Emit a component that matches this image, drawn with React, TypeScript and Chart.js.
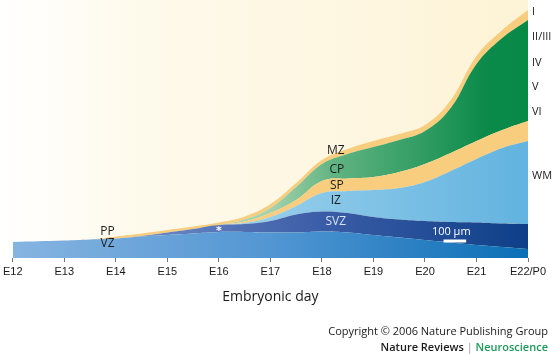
import React, { useEffect, useRef } from "react";
import { Chart, registerables } from "chart.js";

Chart.register(...registerables);

// Embryonic days at which layer thicknesses were read (x axis)
const days = [12, 13, 13.5, 14, 14.5, 15, 15.5, 16, 16.5, 17, 17.5, 18, 18.5, 19, 19.5, 20, 20.5, 21, 21.5, 22];
const tickDays = [12, 13, 14, 15, 16, 17, 18, 19, 20, 21, 22];
const tickLabels = ["E12", "E13", "E14", "E15", "E16", "E17", "E18", "E19", "E20", "E21", "E22/P0"];

// Layer thicknesses (drawing units, 100 µm ≈ 23 units), bottom to top
const vz = [16, 17.5, 18.5, 19.5, 21.5, 23, 24.5, 26, 26, 25.5, 25.5, 26.5, 25.5, 23, 20.5, 18, 15.5, 13, 11, 9];
const svz = [0, 0, 0, 0, 0.5, 2.5, 4.5, 7, 8, 11.5, 18, 20, 19.5, 18, 18, 19, 20.5, 22.5, 23.5, 25];
const iz = [0, 0, 0, 0, 0, 0, 0, 0, 1, 4, 8.5, 18.5, 22, 27, 31.5, 39, 51, 63.5, 75.5, 83];
const sp = [0, 0, 0, 0, 0, 0, 0, 0, 1.5, 4, 6, 12, 12.5, 13, 16, 18, 18, 18, 18, 20];
const cp = [0, 0, 0, 0, 0, 0, 0, 0, 2, 5, 13, 17, 24.5, 30, 32, 33, 45, 77, 92, 101];
const mz = [0, 0, 0, 2, 2.5, 2.5, 2.5, 2.5, 3, 4, 4, 4, 5, 6, 6, 6, 8, 8, 8, 10];

const yMax = 258;

// In-chart labels: [text, day, height, color]
const zoneLabels: [string, number, number, string][] = [
  ["MZ", 18.27, 107, "#1c1c1c"],
  ["CP", 18.29, 88, "#1c1c1c"],
  ["SP", 18.29, 72, "#1c1c1c"],
  ["IZ", 18.27, 57, "#1c1c1c"],
  ["SVZ", 18.27, 36, "#d6e2f4"],
  ["PP", 13.84, 26, "#1c1c1c"],
  ["VZ", 13.84, 14, "#1c1c1c"],
  ["100 µm", 20.51, 26, "#ffffff"],
];
// Right-side layer labels: [text, height]
const sideLabels: [string, number][] = [
  ["I", 246],
  ["II/III", 221],
  ["IV", 195],
  ["V", 171],
  ["VI", 146],
  ["WM", 82],
];

function hGrad(chart: any, stops: [number, string][]) {
  const area = chart.chartArea;
  const c = chart.ctx;
  const g = c.createLinearGradient(area.left, 0, area.right, 0);
  stops.forEach(([p, col]) => g.addColorStop(p, col));
  return g;
}

function fillOf(stops: [number, string][], fallback: string) {
  return (ctx: any) => {
    const chart = ctx.chart;
    if (!chart.chartArea) return fallback;
    return hGrad(chart, stops);
  };
}

const bgPlugin = {
  id: "cream",
  beforeDraw(chart: any) {
    const { ctx, chartArea } = chart;
    const g = ctx.createLinearGradient(0, 0, chartArea.right, 0);
    g.addColorStop(0, "#ffffff");
    g.addColorStop(0.25, "#fefaec");
    g.addColorStop(1, "#fdf3d6");
    ctx.save();
    ctx.fillStyle = g;
    ctx.fillRect(0, 0, chartArea.right, chartArea.bottom);
    ctx.restore();
  },
};

const labelPlugin = {
  id: "zoneLabels",
  afterDraw(chart: any) {
    const { ctx, chartArea } = chart;
    const xs = chart.scales.x;
    const ys = chart.scales.y;
    ctx.save();
    ctx.textAlign = "center";
    ctx.textBaseline = "middle";
    zoneLabels.forEach(([t, d, h, col]) => {
      ctx.font = t === "100 µm" ? "11px 'Open Sans'" : "12px 'Open Sans'";
      ctx.fillStyle = col;
      ctx.fillText(t, xs.getPixelForValue(d), ys.getPixelForValue(h));
    });
    // scale bar
    ctx.strokeStyle = "#ffffff";
    ctx.lineWidth = 3;
    ctx.beginPath();
    const by = ys.getPixelForValue(17);
    ctx.moveTo(xs.getPixelForValue(20.36), by);
    ctx.lineTo(xs.getPixelForValue(20.8), by);
    ctx.stroke();
    // asterisk
    ctx.fillStyle = "#ffffff";
    ctx.font = "bold 11px 'DejaVu Sans'";
    ctx.fillText("*", xs.getPixelForValue(16), ys.getPixelForValue(27));
    // side labels
    ctx.textAlign = "left";
    ctx.fillStyle = "#1c1c1c";
    ctx.font = "11px 'Open Sans'";
    sideLabels.forEach(([t, h]) => {
      ctx.fillText(t, chartArea.right + 4, ys.getPixelForValue(h));
    });
    ctx.restore();
  },
};

export default function App() {
  const ref = useRef<HTMLCanvasElement>(null);

  useEffect(() => {
    const layers = [
      { label: "VZ", data: vz, stops: [[0, "#86b4e1"], [0.5, "#5296d3"], [1, "#0b6fb6"]], fb: "#5598d4" },
      { label: "SVZ", data: svz, stops: [[0, "#7b95cc"], [0.3, "#6682c0"], [0.6, "#3b5da7"], [1, "#0e3f88"]], fb: "#3b5da7" },
      { label: "IZ / WM", data: iz, stops: [[0, "#b4dcef"], [0.5, "#94cdea"], [1, "#62b3e0"]], fb: "#8ecbe9" },
      { label: "SP", data: sp, stops: [[0, "#f9cd7e"], [1, "#f9cd7e"]], fb: "#f9cd7e" },
      { label: "CP", data: cp, stops: [[0, "#a6d2ae"], [0.5, "#a6d2ae"], [0.62, "#62b482"], [0.8, "#2f9c62"], [0.92, "#0b8a4a"], [1, "#078946"]], fb: "#3aa46a" },
      { label: "PP / MZ", data: mz, stops: [[0, "#f9cd7e"], [1, "#f9cd7e"]], fb: "#f9cd7e" },
    ];
    const chart = new Chart(ref.current!, {
      type: "line",
      data: {
        datasets: layers.map((l, i) => ({
          label: l.label,
          data: days.map((d, j) => ({ x: d, y: l.data[j] })),
          fill: i === 0 ? "origin" : "-1",
          backgroundColor: fillOf(l.stops as [number, string][], l.fb),
          borderWidth: 0,
          pointRadius: 0,
          tension: 0.4,
        })),
      },
      options: {
        animation: false,
        responsive: false,
        events: [],
        layout: { padding: { left: 11, right: 27, top: 0, bottom: 0 } },
        plugins: { legend: { display: false }, tooltip: { enabled: false } },
        scales: {
          x: {
            type: "linear",
            min: 12,
            max: 22,
            afterBuildTicks: (scale: any) => {
              scale.ticks = tickDays.map((v) => ({ value: v }));
            },
            afterFit: (scale: any) => {
              scale.height = 98;
            },
            grid: { display: true, drawOnChartArea: false, drawTicks: true, tickLength: 4, color: "#777777", lineWidth: 1 },
            border: { display: false },
            ticks: {
              padding: 3,
              color: "#1a1a1a",
              font: { family: "'Liberation Sans'", size: 11 },
              maxRotation: 0,
              autoSkip: false,
              callback: (v: any) => tickLabels[tickDays.indexOf(Number(v))],
            },
            title: {
              display: true,
              text: "Embryonic day",
              color: "#1a1a1a",
              font: { family: "'Open Sans'", size: 14 },
              padding: { top: 0, bottom: 51 },
            },
          },
          y: { display: false, stacked: true, min: 0, max: yMax },
        },
      },
      plugins: [bgPlugin, labelPlugin],
    });
    return () => chart.destroy();
  }, []);

  return (
    <div style={{ position: "absolute", left: 0, top: 0, width: 555, height: 356, background: "#ffffff" }}>
      <canvas ref={ref} width={555} height={356} style={{ display: "block", width: 555, height: 356 }} />
      <div
        style={{
          position: "absolute",
          right: 7,
          top: 323,
          textAlign: "right",
          fontFamily: "'Open Sans', sans-serif",
          color: "#1a1a1a",
          lineHeight: "16px",
        }}
      >
        <div style={{ fontSize: 11 }}>Copyright © 2006 Nature Publishing Group</div>
        <div style={{ fontSize: 11, fontWeight: 600 }}>
          Nature Reviews <span style={{ color: "#9a9a9a", fontWeight: 400 }}>|</span>{" "}
          <span style={{ color: "#1e9a57" }}>Neuroscience</span>
        </div>
      </div>
    </div>
  );
}
